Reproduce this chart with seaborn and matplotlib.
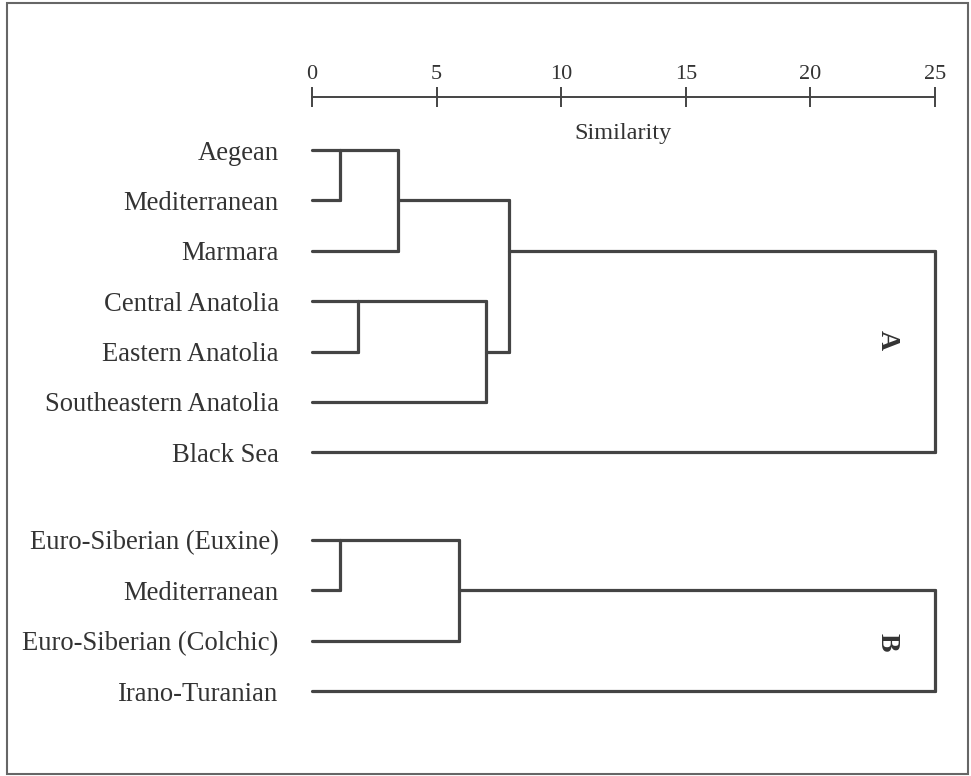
import numpy as np
import pandas as pd
import matplotlib
matplotlib.use("Agg")
import matplotlib.pyplot as plt
import seaborn as sns
from matplotlib.patches import Rectangle

# leaves of the two dendrograms (top to bottom)
labels_a = ["Aegean", "Mediterranean", "Marmara", "Central Anatolia",
            "Eastern Anatolia", "Southeastern Anatolia", "Black Sea"]
labels_b = ["Euro-Siberian (Euxine)", "Mediterranean",
            "Euro-Siberian (Colchic)", "Irano-Turanian"]

# merges, scipy style: (child1, child2, similarity); new cluster ids follow the leaves
merges_a = [(0, 1, 1.12), (7, 2, 3.47), (3, 4, 1.86), (9, 5, 6.98),
            (8, 10, 7.92), (11, 6, 25.0)]
merges_b = [(0, 1, 1.12), (4, 2, 5.91), (5, 3, 25.0)]

group_names = ["A", "B"]
ticks = [0, 5, 10, 15, 20, 25]

sns.set_style("white")
plt.rcParams['font.family'] = ['Liberation Serif', 'DejaVu Serif']
ink = '#444444'


def dendro_segments(n_leaves, merges, offset, start_id):
    pos = {i: float(i) for i in range(n_leaves)}
    height = {i: 0.0 for i in range(n_leaves)}
    segs = []
    sid = start_id
    for k, (c1, c2, h) in enumerate(merges):
        y1, y2 = pos[c1], pos[c2]
        for c, y in ((c1, y1), (c2, y2)):
            segs.append((sid, height[c], y + offset)); segs.append((sid, h, y + offset)); sid += 1
        segs.append((sid, h, y1 + offset)); segs.append((sid, h, y2 + offset)); sid += 1
        new = n_leaves + k
        pos[new] = np.floor((y1 + y2) / 2)
        height[new] = h
    return segs, sid


row_b = 7.74
segs_a, nxt = dendro_segments(len(labels_a), merges_a, 0.0, 0)
segs_b, _ = dendro_segments(len(labels_b), merges_b, row_b, nxt)
df = pd.DataFrame(segs_a + segs_b, columns=['seg', 'x', 'y'])

fig = plt.figure(figsize=(9.71, 7.76), dpi=100)
ax = fig.add_axes([312/971, 1 - 720/776, (935 - 312)/971, (720 - 97)/776])

sns.lineplot(data=df, x='x', y='y', units='seg', estimator=None, sort=False,
             color=ink, lw=2.3, clip_on=False, ax=ax, legend=False)

ax.set_xlim(0, 25)
ax.set_ylim(11.31, -1.052)
ax.set_xlabel('')
ax.set_ylabel('')

for s in ['left', 'right', 'bottom']:
    ax.spines[s].set_visible(False)
ax.spines['top'].set_color(ink)
ax.spines['top'].set_linewidth(1.4)

ax.xaxis.tick_top()
ax.set_xticks(ticks)
ax.set_xticklabels([str(t) for t in ticks], fontsize=16, color='#333333')
ax.tick_params(axis='x', direction='inout', length=14, width=1.4, color=ink, pad=2.5)

ypos = list(range(len(labels_a))) + [row_b + i for i in range(len(labels_b))]
ax.set_yticks(ypos)
ax.set_yticklabels(labels_a + labels_b, fontsize=19.2, color='#333333')
ax.tick_params(axis='y', length=0, pad=24)

ax.annotate('Similarity', xy=(0.5, 1), xycoords='axes fraction', xytext=(0, -26),
            textcoords='offset points', ha='center', va='center', fontsize=17.5, color='#333333')

ax.text(23.07, 3.77, group_names[0], rotation=-90, ha='center', va='center',
        fontsize=20, fontweight='bold', color='#333333')
ax.text(23.07, 9.76, group_names[1], rotation=-90, ha='center', va='center',
        fontsize=20, fontweight='bold', color='#333333')

fig.patches.append(Rectangle((7/971, 2/776), 961/971, 771/776, transform=fig.transFigure,
                             fill=False, edgecolor='#666666', lw=1.5))

fig.savefig('out.png', dpi=100)
